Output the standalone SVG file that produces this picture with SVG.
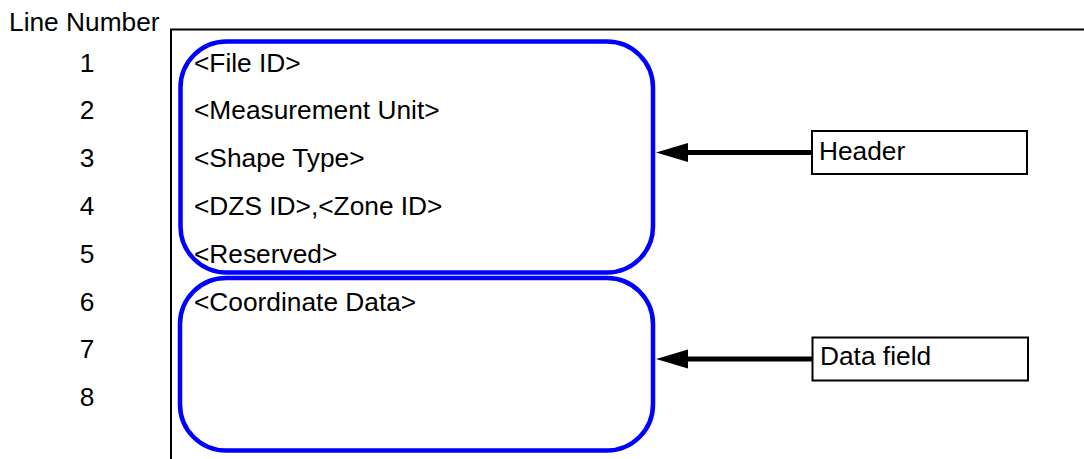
<svg xmlns="http://www.w3.org/2000/svg" width="1084" height="459" viewBox="0 0 1084 459">
<style>
text{font-family:"Liberation Sans",Arial,sans-serif;font-size:26.3px;fill:#000}
.num{text-anchor:middle}
.frame{fill:none;stroke:#000;stroke-width:2}
.blue{fill:none;stroke:#0000ff;stroke-width:4.5}
.lbl{fill:#fff;stroke:#000;stroke-width:2}
.arr{fill:none;stroke:#000;stroke-width:5}
</style>
<defs>
<marker id="ah" markerUnits="userSpaceOnUse" markerWidth="32" markerHeight="20" viewBox="0 0 32 20" refX="4" refY="9.5" orient="auto">
<path d="M0,0 L32,9.5 L0,19 z" fill="#000"/>
</marker>
</defs>
<g id="frame">
<path class="frame" d="M171,459 V29.5 H1084"/>
<text x="9" y="31">Line Number</text>
</g>
<g id="line-numbers">
<text class="num" x="87" y="71.5">1</text>
<text class="num" x="87" y="119.3">2</text>
<text class="num" x="87" y="167.1">3</text>
<text class="num" x="87" y="214.9">4</text>
<text class="num" x="87" y="262.7">5</text>
<text class="num" x="87" y="310.5">6</text>
<text class="num" x="87" y="358.3">7</text>
<text class="num" x="87" y="406.1">8</text>
</g>
<g id="rows">
<text x="194" y="71.5">&lt;File ID&gt;</text>
<text x="194" y="119.3">&lt;Measurement Unit&gt;</text>
<text x="194" y="167.1">&lt;Shape Type&gt;</text>
<text x="194" y="214.9">&lt;DZS ID&gt;,&lt;Zone ID&gt;</text>
<text x="194" y="262.7">&lt;Reserved&gt;</text>
<text x="194" y="310.5">&lt;Coordinate Data&gt;</text>
</g>
<g id="header-group">
<rect class="blue" x="180.5" y="41.5" width="472.5" height="231" rx="46" ry="46"/>
</g>
<g id="data-group">
<rect class="blue" x="180" y="278" width="473" height="172.5" rx="46" ry="46"/>
</g>
<g id="header-label">
<rect class="lbl" x="812" y="131" width="215" height="43"/>
<text x="819" y="159.5">Header</text>
</g>
<g id="data-label">
<rect class="lbl" x="812.5" y="337.5" width="215.5" height="43"/>
<text x="820" y="365">Data field</text>
</g>
<g id="connectors">
<line class="arr" x1="812" y1="152.5" x2="684" y2="152.5" marker-end="url(#ah)"/>
<line class="arr" x1="812" y1="359" x2="684" y2="359" marker-end="url(#ah)"/>
</g>
</svg>
